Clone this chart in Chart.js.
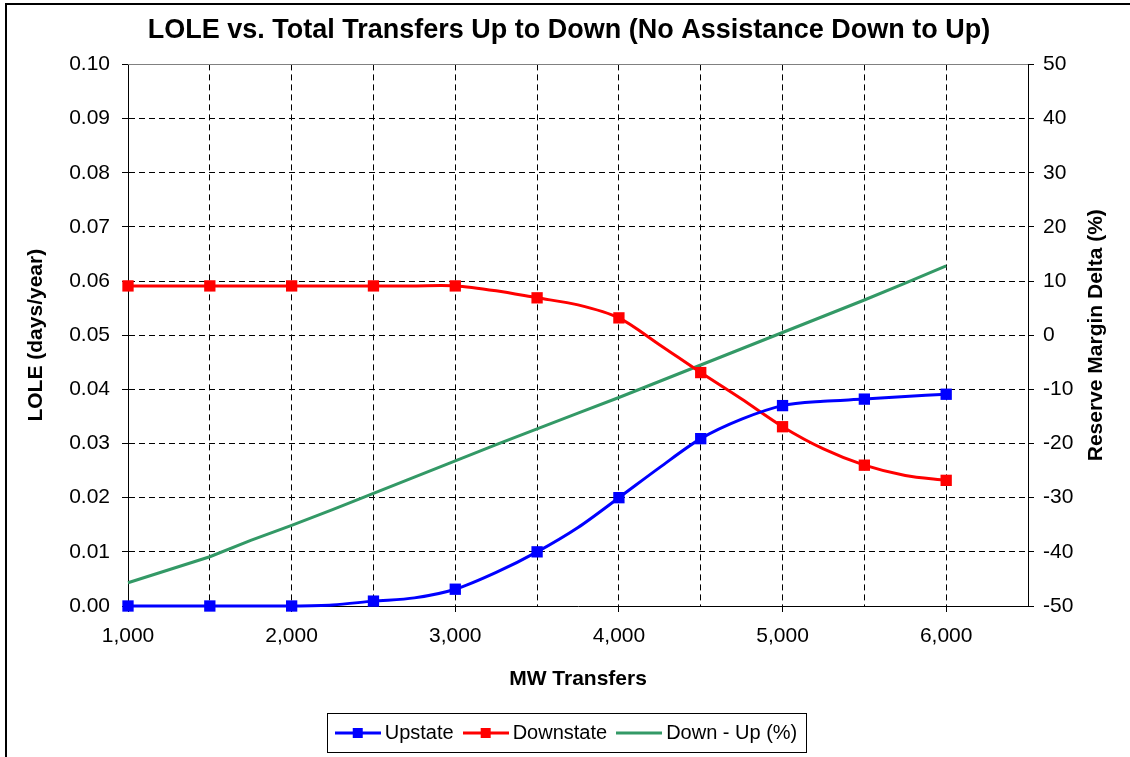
<!DOCTYPE html>
<html>
<head>
<meta charset="utf-8">
<script src="https://cdn.jsdelivr.net/npm/chart.js@4.4.1/dist/chart.umd.min.js"></script>
<style>
html,body{margin:0;padding:0;background:#fff;}
#wrap{width:1130px;height:757px;position:relative;}
</style>
</head>
<body>
<div id="wrap"><canvas id="c" width="1130" height="757"></canvas></div>
<script>
// ---- data ----
const transfersMW = [1000,1250,1500,1750,2000,2250,2500,2750,3000,3250,3500,3750,4000,4250,4500,4750,5000,5250,5500,5750,6000];
const upstateLOLE = [0,0,0,0,0,0.0002,0.0009,0.0015,0.0031,0.0062,0.0100,0.0145,0.0200,0.0256,0.0309,0.0345,0.0370,0.0378,0.0382,0.0387,0.0391];
const downstateLOLE = [0.0591,0.0591,0.0591,0.0591,0.0591,0.0591,0.0591,0.0591,0.0591,0.0582,0.0569,0.0556,0.0532,0.0482,0.0431,0.0382,0.0331,0.0290,0.0260,0.0241,0.0232];
const downMinusUpPct = [-45.7,-43.3,-40.9,-37.9,-35.1,-32.2,-29.2,-26.2,-23.2,-20.2,-17.3,-14.4,-11.5,-8.5,-5.5,-2.5,0.5,3.5,6.5,9.6,12.8];
const seriesNames = ['Upstate','Downstate','Down - Up (%)'];
const chartTitle = 'LOLE vs. Total Transfers Up to Down (No Assistance Down to Up)';
const xTitle = 'MW Transfers';
const yLeftTitle = 'LOLE (days/year)';
const yRightTitle = 'Reserve Margin Delta (%)';

const FONT = "'Liberation Sans', Arial, sans-serif";
const BLUE = '#0000FF', RED = '#FF0000', GREEN = '#339966';

function pts(ys){ return transfersMW.map((x,i)=>({x:x,y:ys[i]})); }
function markerRadius(ctx){ return (transfersMW[ctx.dataIndex] % 500 === 0) ? 8 : 0; }

function legendIcon(color, marker){
  const c = document.createElement('canvas');
  c.width = 46; c.height = 12;
  const g = c.getContext('2d');
  g.strokeStyle = color; g.lineWidth = 3;
  g.beginPath(); g.moveTo(0,6); g.lineTo(46,6); g.stroke();
  if (marker){ g.fillStyle = color; g.fillRect(18,1,10,10); }
  return c;
}
const icons = [legendIcon(BLUE,true), legendIcon(RED,true), legendIcon(GREEN,false)];

function fmtThousands(v){ return String(v).replace(/\B(?=(\d{3})+(?!\d))/g, ','); }

const framePlugin = {
  id:'frame',
  beforeDatasetsDraw(chart){
    const ctx = chart.ctx, a = chart.chartArea;
    ctx.save();
    ctx.strokeStyle = '#808080'; ctx.lineWidth = 1; ctx.setLineDash([]);
    ctx.beginPath(); ctx.moveTo(a.left, Math.round(a.top)+0.5); ctx.lineTo(a.right, Math.round(a.top)+0.5); ctx.stroke();
    ctx.restore();
  },
  afterDraw(chart){
    const ctx = chart.ctx, a = chart.chartArea;
    ctx.save();
    ctx.strokeStyle = '#000'; ctx.lineWidth = 2;
    ctx.beginPath(); ctx.moveTo(6,760); ctx.lineTo(6,4); ctx.lineTo(1135,4); ctx.stroke();
    ctx.fillStyle = '#000';
    ctx.font = 'bold 21px ' + FONT;
    ctx.textAlign = 'center'; ctx.textBaseline = 'middle';
    ctx.translate(1096, (a.top + a.bottom)/2);
    ctx.rotate(-Math.PI/2);
    ctx.fillText(yRightTitle, 0, 0);
    ctx.restore();
    const hb = chart.legend.legendHitBoxes;
    if (hb && hb.length){
      const l = hb[0].left - 14, r = hb[hb.length-1].left + hb[hb.length-1].width + 8;
      const cy = hb[0].top + hb[0].height/2;
      ctx.save();
      ctx.strokeStyle = '#000'; ctx.lineWidth = 1;
      ctx.strokeRect(Math.round(l)+0.5, Math.round(cy-20)+0.5, Math.round(r-l), 39);
      ctx.restore();
    }
  }
};

new Chart(document.getElementById('c'), {
  type:'line',
  data:{
    datasets:[
      {label:seriesNames[0], data:pts(upstateLOLE), yAxisID:'y', borderColor:BLUE, backgroundColor:BLUE, borderWidth:3, clip:false,
       pointStyle:'rect', pointRadius:markerRadius, pointHoverRadius:markerRadius, pointBorderWidth:0, tension:0.3},
      {label:seriesNames[1], data:pts(downstateLOLE), yAxisID:'y', borderColor:RED, backgroundColor:RED, borderWidth:3, clip:false,
       pointStyle:'rect', pointRadius:markerRadius, pointHoverRadius:markerRadius, pointBorderWidth:0, tension:0.3},
      {label:seriesNames[2], data:pts(downMinusUpPct), yAxisID:'y1', borderColor:GREEN, backgroundColor:GREEN, borderWidth:3, clip:false,
       pointRadius:0, tension:0}
    ]
  },
  options:{
    responsive:false, animation:false,
    layout:{padding:{left:8, right:0, top:0, bottom:4}},
    plugins:{
      title:{display:true, text:chartTitle, color:'#000', font:{family:FONT, size:27, weight:'bold'}, padding:{top:14, bottom:18}},
      legend:{position:'bottom', labels:{
        color:'#000', font:{family:FONT, size:20}, usePointStyle:true, pointStyleWidth:34, padding:15,
        generateLabels(chart){
          return chart.data.datasets.map((d,i)=>({text:d.label, pointStyle:icons[i], fillStyle:d.borderColor, strokeStyle:d.borderColor, lineWidth:0, hidden:false, datasetIndex:i, fontColor:'#000'}));
        }
      }},
      tooltip:{enabled:false}
    },
    scales:{
      x:{type:'linear', min:1000, max:6500,
        afterFit(s){ s.height = 102; },
        ticks:{stepSize:500, autoSkip:false, maxRotation:0, padding:12, color:'#000', font:{family:FONT, size:21},
          callback(v){ return (v % 1000 === 0 && v <= 6000) ? fmtThousands(v) : ''; }},
        grid:{color:'#000', lineWidth:1, tickLength:6,
          tickColor(ctx){ const v = ctx.tick ? ctx.tick.value : 0; return (v % 1000 === 0 && v <= 6000) ? '#000' : 'rgba(0,0,0,0)'; }},
        border:{display:true, color:'#000', width:1, dash:[6,4]},
        title:{display:true, text:xTitle, color:'#000', font:{family:FONT, size:21, weight:'bold'}, padding:{top:4, bottom:16}}
      },
      y:{type:'linear', position:'left', min:0, max:0.1,
        afterFit(s){ s.width = 120; },
        ticks:{stepSize:0.01, padding:12, color:'#000', font:{family:FONT, size:21}, callback(v){ return v.toFixed(2); }},
        grid:{color:'#000', lineWidth:1, tickLength:6, tickColor:'#000'},
        border:{display:true, color:'#000', width:1, dash:[6,4]},
        title:{display:true, text:yLeftTitle, color:'#000', font:{family:FONT, size:21, weight:'bold'}, padding:{top:16, bottom:0}}
      },
      y1:{type:'linear', position:'right', min:-50, max:50,
        afterFit(s){ s.width = 102; },
        ticks:{stepSize:10, padding:9, color:'#000', font:{family:FONT, size:21}},
        grid:{drawOnChartArea:false, color:'#000', tickLength:6, tickColor:'#000'},
        border:{display:true, color:'#000', width:1}
      }
    }
  },
  plugins:[framePlugin]
});
</script>
</body>
</html>
